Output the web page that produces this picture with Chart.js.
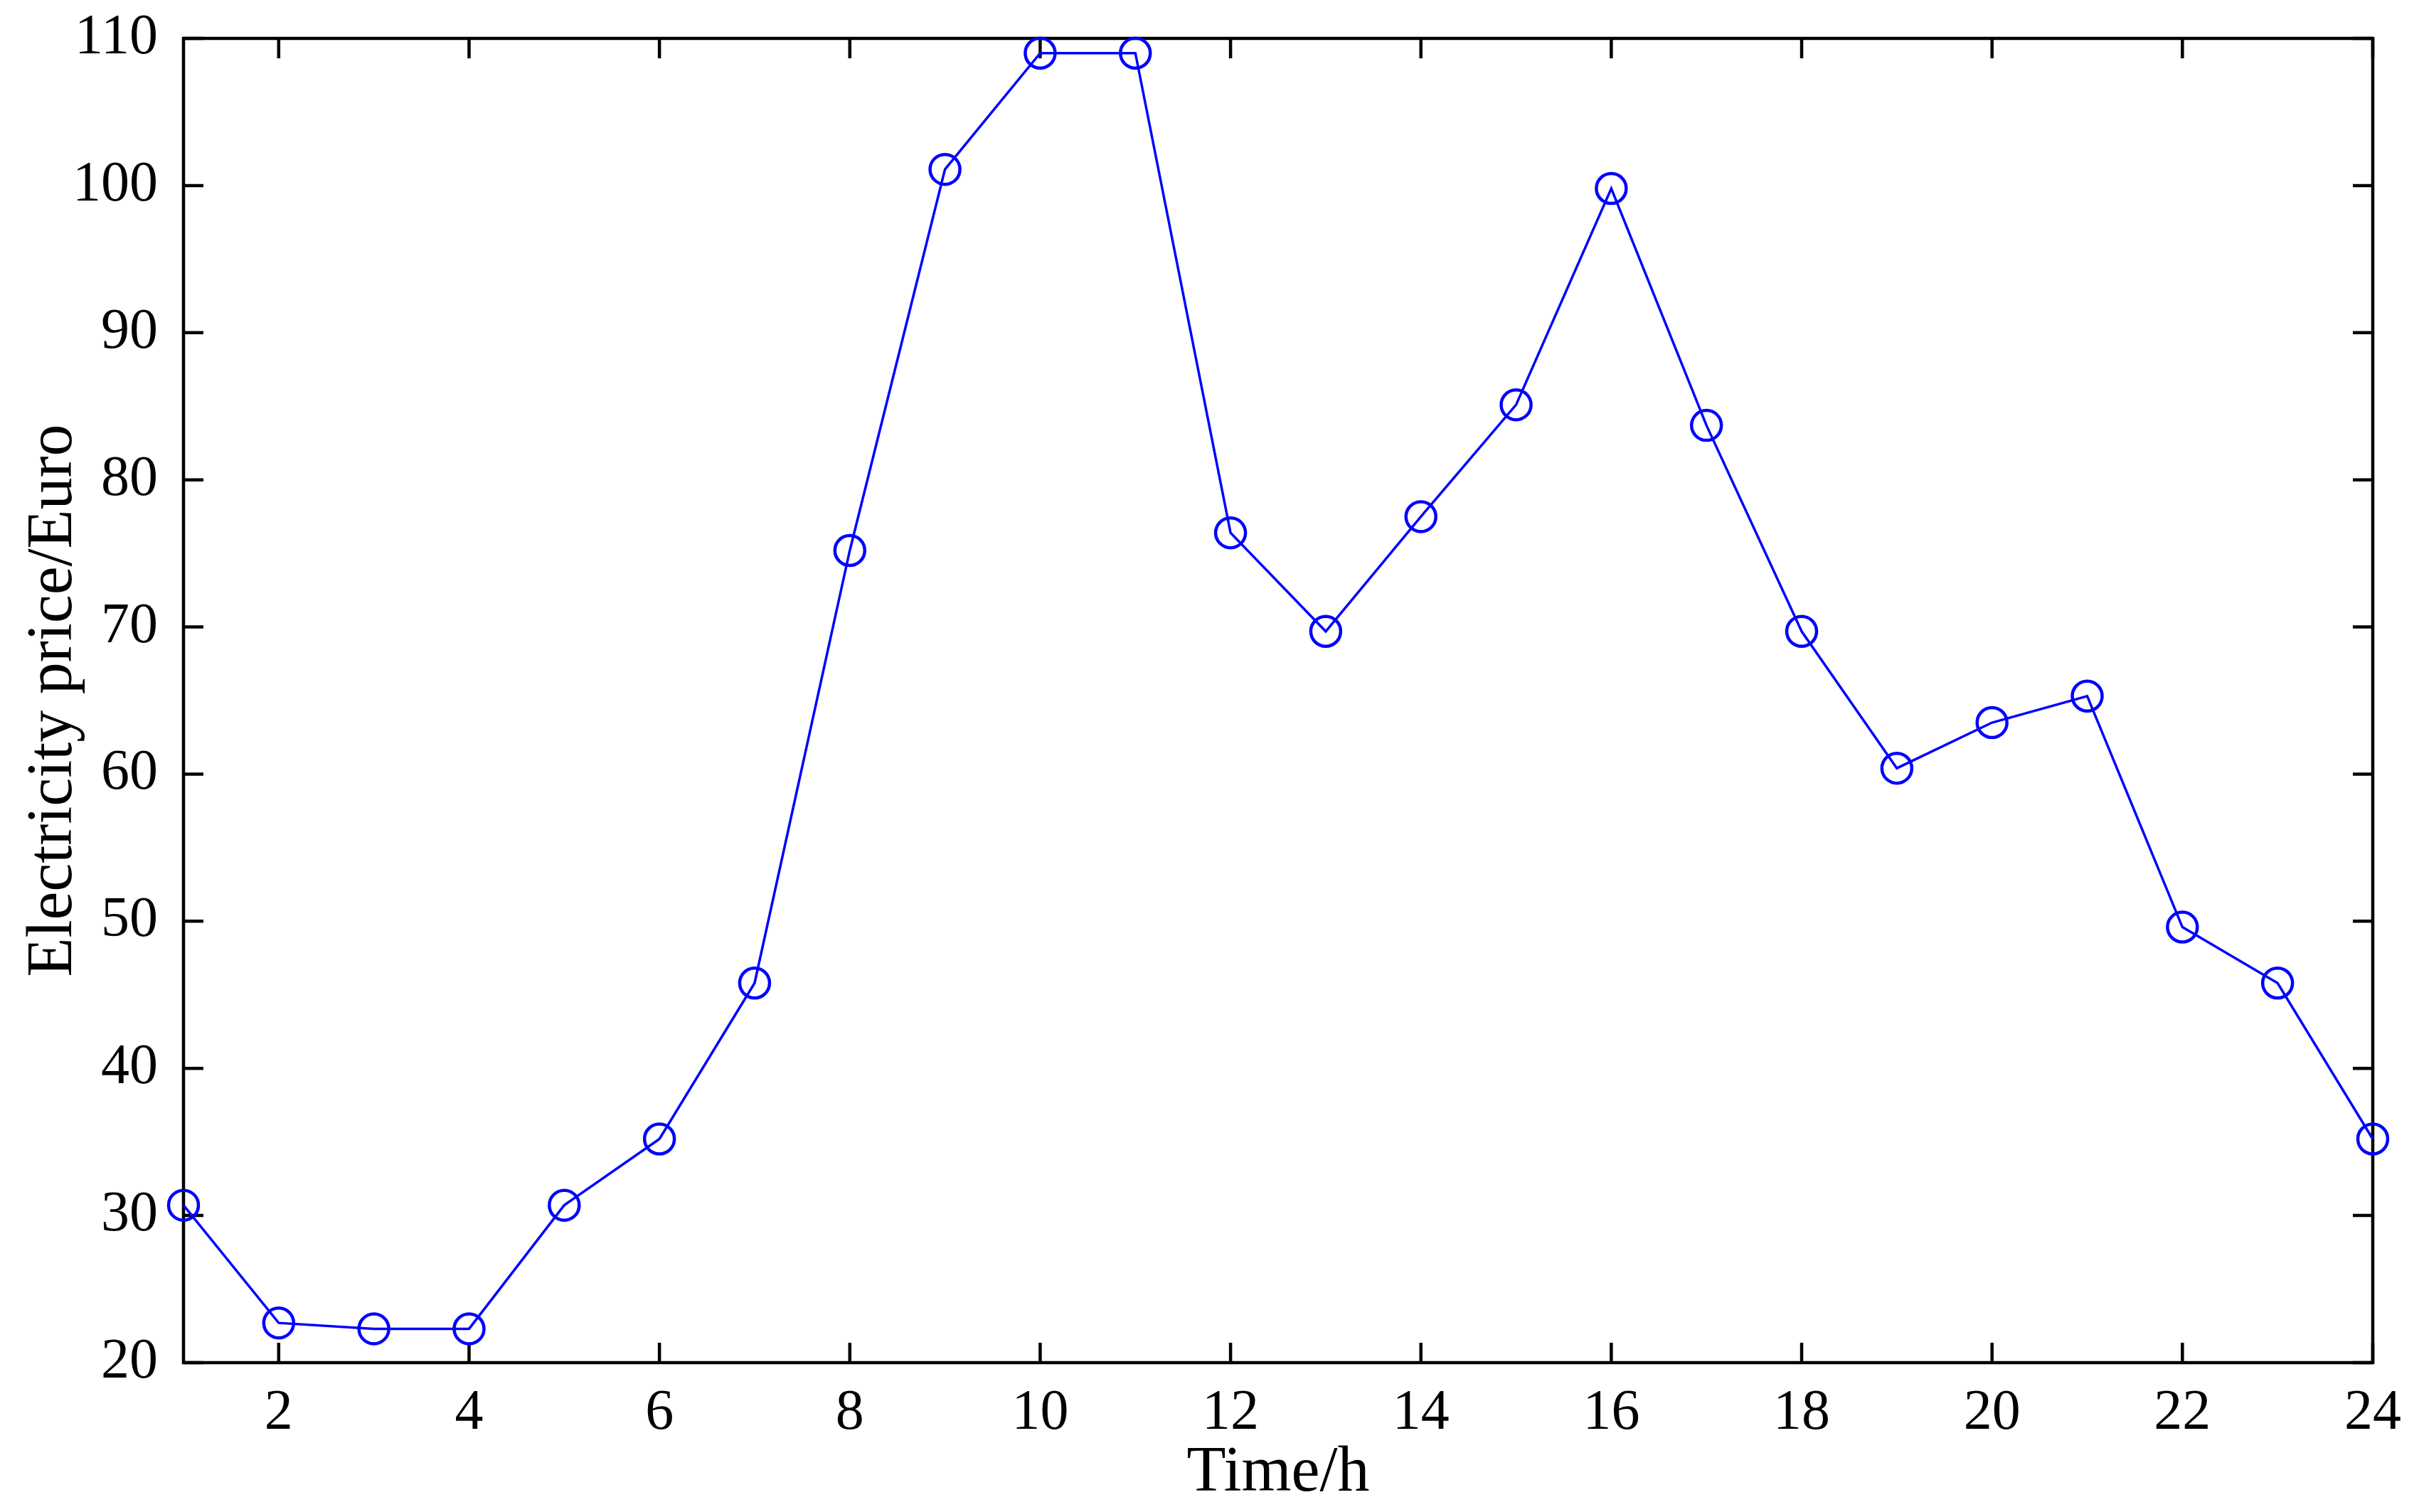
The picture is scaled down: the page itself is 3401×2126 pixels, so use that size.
<!DOCTYPE html>
<html>
<head>
<meta charset="utf-8">
<script src="https://cdn.jsdelivr.net/npm/chart.js@4.4.1/dist/chart.umd.min.js"></script>
<style>
    html, body { margin: 0; padding: 0; background: #fff; }
    #wrap { width: 3401px; height: 2126px; }
</style>
</head>
<body>
<div id="wrap"><canvas id="priceChart" width="3401" height="2126"></canvas></div>
<script>
// ===== DATA =====
const hours = [1, 2, 3, 4, 5, 6, 7, 8, 9, 10, 11, 12, 13, 14, 15, 16, 17, 18, 19, 20, 21, 22, 23, 24];
const prices = [30.7, 22.7, 22.3, 22.3, 30.7, 35.2, 45.8, 75.2, 101.1, 109.0, 109.0, 76.4,
                69.7, 77.5, 85.1, 99.8, 83.7, 69.7, 60.4, 63.5, 65.3, 49.6, 45.8, 35.2];
const xTicks = [2, 4, 6, 8, 10, 12, 14, 16, 18, 20, 22, 24];
const yTicks = [20, 30, 40, 50, 60, 70, 80, 90, 100, 110];

const FONT = '"Liberation Serif", "Times New Roman", serif';

// box frame + inward ticks on all four sides (matlab look)
const boxTicks = {
    id: 'boxTicks',
    beforeDatasetsDraw(chart) {
        const { ctx, chartArea: a, scales: { x, y } } = chart;
        const len = 28;
        ctx.save();
        ctx.strokeStyle = '#000';
        ctx.lineWidth = 4.5;
        ctx.strokeRect(a.left, a.top, a.width, a.height);
        ctx.beginPath();
        x.ticks.forEach(t => {
            const px = x.getPixelForValue(t.value);
            ctx.moveTo(px, a.bottom); ctx.lineTo(px, a.bottom - len);
            ctx.moveTo(px, a.top); ctx.lineTo(px, a.top + len);
        });
        y.ticks.forEach(t => {
            const py = y.getPixelForValue(t.value);
            ctx.moveTo(a.left, py); ctx.lineTo(a.left + len, py);
            ctx.moveTo(a.right, py); ctx.lineTo(a.right - len, py);
        });
        ctx.stroke();
        ctx.restore();
    }
};

new Chart(document.getElementById('priceChart').getContext('2d'), {
    type: 'line',
    data: {
        datasets: [{
            data: hours.map((h, i) => ({ x: h, y: prices[i] })),
            borderColor: '#0000ff',
            borderWidth: 3.5,
            tension: 0,
            pointStyle: 'circle',
            pointRadius: 21,
            pointBorderWidth: 4.5,
            pointBorderColor: '#0000ff',
            pointBackgroundColor: 'rgba(0,0,0,0)',
            clip: false,
        }]
    },
    options: {
        responsive: false,
        animation: false,
        devicePixelRatio: 1,
        layout: { padding: { left: 0, right: 65, top: 54, bottom: 0 } },
        plugins: { legend: { display: false }, tooltip: { enabled: false } },
        scales: {
            x: {
                type: 'linear',
                min: 1,
                max: 24,
                afterBuildTicks: s => { s.ticks = xTicks.map(v => ({ value: v })); },
                afterFit: s => { s.height = 210; s.paddingLeft = 0; s.paddingRight = 0; },
                grid: { display: false },
                border: { display: false },
                ticks: { color: '#000', font: { family: FONT, size: 80 }, padding: 16, maxRotation: 0, autoSkip: false },
                title: { display: true, text: 'Time/h', color: '#000', font: { family: FONT, size: 90 }, padding: 0 },
            },
            y: {
                min: 20,
                max: 110,
                afterBuildTicks: s => { s.ticks = yTicks.map(v => ({ value: v })); },
                afterFit: s => { s.width = 258; s.paddingTop = 0; s.paddingBottom = 0; },
                grid: { display: false },
                border: { display: false },
                ticks: { color: '#000', font: { family: FONT, size: 80 }, padding: 28 },
                title: { display: true, text: 'Electricity price/Euro', color: '#000', font: { family: FONT, size: 90 }, padding: { top: 22, bottom: 0 } },
            }
        }
    },
    plugins: [boxTicks]
});
</script>
</body>
</html>
